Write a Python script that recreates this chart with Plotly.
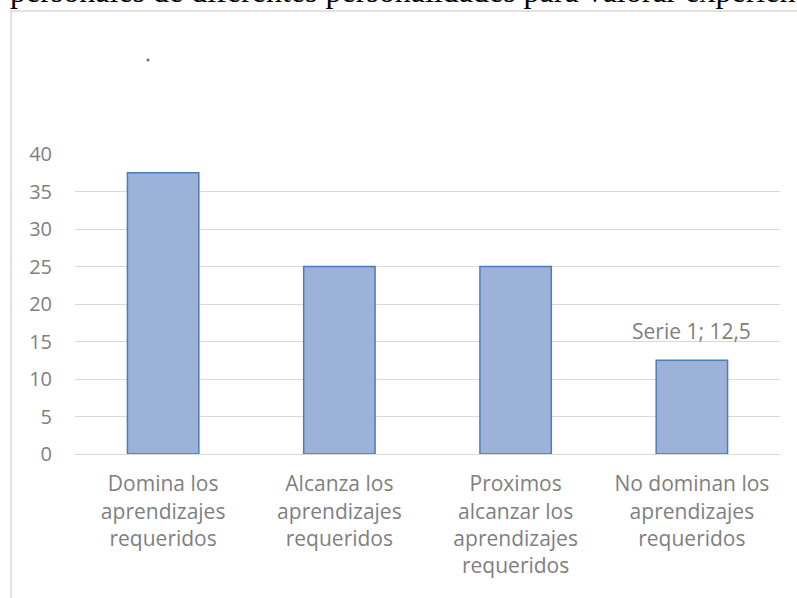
import plotly.graph_objects as go

categories = [
    "Domina los<br>aprendizajes<br>requeridos",
    "Alcanza los<br>aprendizajes<br>requeridos",
    "Proximos<br>alcanzar los<br>aprendizajes<br>requeridos",
    "No dominan los<br>aprendizajes<br>requeridos",
]
values = [37.5, 25, 25, 12.5]
series_name = "Serie 1"
y_ticks = [0, 5, 10, 15, 20, 25, 30, 35, 40]
title_text = "personales de diferentes personalidades para valorar experien"

W, H = 797, 598
L, R, T, B = 75, 17, 154, 144
pw, ph = W - L - R, H - T - B

def px_to_paper_x(px):
    return (px - L) / pw

def px_to_paper_y(py):
    return (H - B - py) / ph

gray = "#7f7f7f"
font_family = "'Open Sans', sans-serif"
fs = 20

fig = go.Figure()
fig.add_trace(go.Bar(
    x=categories, y=values, name=series_name,
    marker=dict(color="#9cb2d8", line=dict(color="#4a7ebb", width=1.5)),
    width=0.405,
))

fig.add_annotation(
    x=categories[3], y=values[3], xref="x", yref="y",
    text=f"{series_name}; {str(values[3]).replace('.', ',')}",
    showarrow=False, yanchor="bottom", yshift=13,
    font=dict(family=font_family, size=21, color=gray),
)

# clipped page text at the top
fig.add_annotation(
    x=px_to_paper_x(8), y=px_to_paper_y(-9), xref="paper", yref="paper",
    text=title_text, showarrow=False, xanchor="left", yanchor="middle",
    font=dict(family="'Liberation Serif', 'Times New Roman', serif", size=32, color="black"),
)
# stray dot
fig.add_shape(type="circle", xref="paper", yref="paper",
              x0=px_to_paper_x(146.5), x1=px_to_paper_x(149.5),
              y0=px_to_paper_y(61.5), y1=px_to_paper_y(58.5),
              fillcolor="#6f6f6f", line=dict(width=0))

# chart frame edges (top and left)
frame = "#d9d9d9"
fig.add_shape(type="line", xref="paper", yref="paper",
              x0=px_to_paper_x(10), x1=px_to_paper_x(810),
              y0=px_to_paper_y(11), y1=px_to_paper_y(11),
              line=dict(color=frame, width=1.5))
fig.add_shape(type="line", xref="paper", yref="paper",
              x0=px_to_paper_x(11), x1=px_to_paper_x(11),
              y0=px_to_paper_y(11), y1=px_to_paper_y(610),
              line=dict(color=frame, width=1.5))

fig.update_layout(
    width=W, height=H,
    margin=dict(l=L, r=R, t=T, b=B, pad=0),
    paper_bgcolor="white", plot_bgcolor="white",
    showlegend=False,
    bargap=0.595,
    font=dict(family=font_family, size=fs, color=gray),
)
fig.update_yaxes(
    range=[0, 40], tickvals=y_ticks, showgrid=True, gridcolor="#d9d9d9",
    gridwidth=1, zeroline=False, showline=False, ticks="",
    ticklabelstandoff=22, tickfont=dict(size=fs, color=gray),
)
fig.update_xaxes(
    showgrid=False, showline=True, linecolor="#d9d9d9", linewidth=1,
    ticks="", ticklabelstandoff=11, tickfont=dict(size=21, color=gray),
)

fig.write_html(
    "out.html",
    config={"displayModeBar": False},
    post_script="document.body.style.margin='0';document.body.style.overflow='hidden';",
)
